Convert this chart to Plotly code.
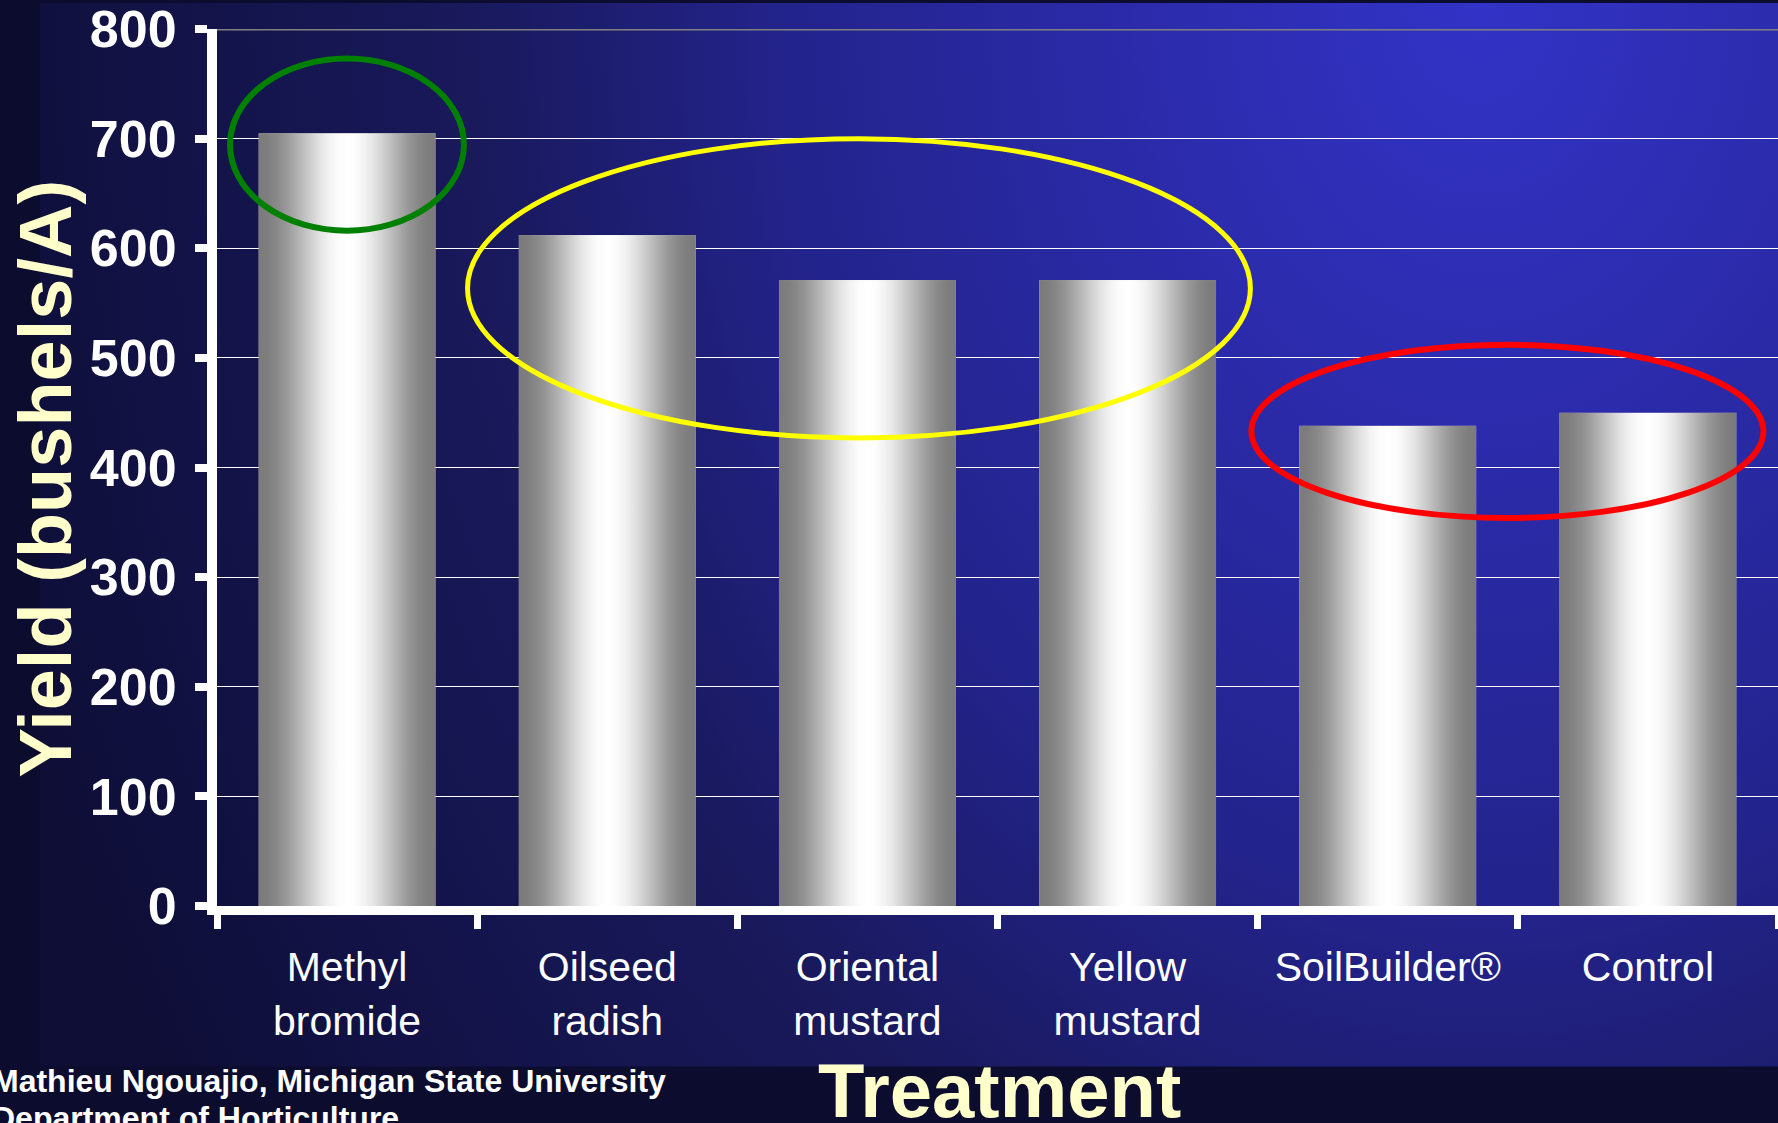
import base64
import math
import plotly.graph_objects as go

# ---- data -------------------------------------------------------------
categories = ["Methyl<br>bromide", "Oilseed<br>radish", "Oriental<br>mustard",
              "Yellow<br>mustard", "SoilBuilder®", "Control"]
yield_bu_per_acre = [705, 612, 571, 571, 438, 450]
y_tick_values = [0, 100, 200, 300, 400, 500, 600, 700, 800]

y_title = "Yield (bushels/A)"
x_title = "Treatment"
credit_lines = ["Mathieu Ngouajio, Michigan State University",
                "Department of Horticulture"]

# ---- layout constants --------------------------------------------------
W, H = 1778, 1123
M_L, M_R, M_T, M_B = 217, 0, 26, 217
PW, PH = W - M_L - M_R, H - M_T - M_B
BAR_W = 0.68
FONT = "Liberation Sans, Arial, sans-serif"
CREAM = "#ffffcc"

# outlines drawn around groups of bars: (x0, x1, y0, y1, colour, width)
highlight_ellipses = [
    (-0.45, 0.449, 616, 773, "#008000", 6),
    (0.463, 3.472, 427, 700, "#ffff00", 5),
    (3.476, 5.444, 354, 512, "#ff0000", 6),
]


def px_x(px):
    return (px - M_L) / PW


def px_y(py):
    return (H - M_B - py) / PH


def svg_uri(svg):
    return "data:image/svg+xml;base64," + base64.b64encode(svg.encode()).decode()


# slide background with a blue gradient panel behind the chart
background_svg = f"""<svg xmlns='http://www.w3.org/2000/svg' width='{W}' height='{H}'
 viewBox='0 0 {W} {H}' preserveAspectRatio='none'>
<defs>
<radialGradient id='panel' gradientUnits='userSpaceOnUse' cx='1480' cy='0' r='1550'
 gradientTransform='translate(1480 0) scale(1 1.3) translate(-1480 0)'>
<stop offset='0' stop-color='#3233c6'/>
<stop offset='0.22' stop-color='#2b2bab'/>
<stop offset='0.45' stop-color='#23238c'/>
<stop offset='0.65' stop-color='#19195c'/>
<stop offset='0.9' stop-color='#111142'/>
<stop offset='1' stop-color='#0e0e37'/>
</radialGradient>
</defs>
<rect width='{W}' height='{H}' fill='#0c0c2f'/>
<rect x='40' y='-10' width='{W}' height='1077' fill='url(#panel)'/>
</svg>"""

# chrome-like horizontal shading for the bars (grey edges, white centre)
stops = []
for k in range(21):
    t = k / 20
    v = round(123 + 132 * (1 - math.cos(2 * math.pi * t)) / 2)
    stops.append(f"<stop offset='{t:.2f}' stop-color='rgb({v},{v},{v})'/>")
bar_svg = ("<svg xmlns='http://www.w3.org/2000/svg' width='100' height='100' "
           "viewBox='0 0 100 100' preserveAspectRatio='none'>"
           "<defs><linearGradient id='b' x1='0' y1='0' x2='1' y2='0'>"
           + "".join(stops) +
           "</linearGradient></defs>"
           "<rect width='100' height='100' fill='url(#b)'/></svg>")

bg_uri = svg_uri(background_svg)
bar_uri = svg_uri(bar_svg)

fig = go.Figure()
fig.add_trace(go.Bar(
    x=categories,
    y=yield_bu_per_acre,
    width=BAR_W,
    marker=dict(color="#b8b8b8", line=dict(width=0)),
    hovertemplate="%{x}: %{y}<extra></extra>",
))

images = [dict(
    source=bg_uri, xref="paper", yref="paper",
    x=px_x(0), y=px_y(0), sizex=W / PW, sizey=H / PH,
    xanchor="left", yanchor="top", sizing="stretch", layer="below",
)]
for i, v in enumerate(yield_bu_per_acre):
    images.append(dict(
        source=bar_uri, xref="x", yref="y",
        x=i - BAR_W / 2, y=v, sizex=BAR_W, sizey=v,
        xanchor="left", yanchor="top", sizing="stretch", layer="above",
    ))

shapes = [dict(
    type="line", xref="paper", yref="y", x0=0, x1=1,
    y0=y_tick_values[-1], y1=y_tick_values[-1],
    line=dict(color="#808080", width=3), layer="between",
)]
for x0, x1, y0, y1, col, lw in highlight_ellipses:
    shapes.append(dict(
        type="circle", xref="x", yref="y", x0=x0, x1=x1, y0=y0, y1=y1,
        line=dict(color=col, width=lw), fillcolor="rgba(0,0,0,0)", layer="above",
    ))

annotations = [
    dict(text=y_title, textangle=-90, xref="paper", yref="paper",
         x=px_x(45), y=px_y(477), xanchor="center", yanchor="middle",
         showarrow=False, font=dict(family=FONT, size=74, color=CREAM, weight="bold")),
    dict(text=x_title, xref="paper", yref="paper",
         x=px_x(999), y=px_y(1091), xanchor="center", yanchor="middle",
         showarrow=False, font=dict(family=FONT, size=76, color=CREAM, weight="bold")),
    dict(text=credit_lines[0], xref="paper", yref="paper",
         x=px_x(-10), y=px_y(1082), xanchor="left", yanchor="middle",
         showarrow=False, font=dict(family=FONT, size=32, color="white", weight="bold")),
    dict(text=credit_lines[1], xref="paper", yref="paper",
         x=px_x(-10), y=px_y(1119), xanchor="left", yanchor="middle",
         showarrow=False, font=dict(family=FONT, size=32, color="white", weight="bold")),
]

fig.update_layout(
    width=W, height=H,
    margin=dict(l=M_L, r=M_R, t=M_T, b=M_B, pad=0),
    paper_bgcolor="#0c0c2f",
    plot_bgcolor="rgba(0,0,0,0)",
    showlegend=False,
    bargap=1 - BAR_W,
    images=images,
    shapes=shapes,
    annotations=annotations,
    font=dict(family=FONT, color="white"),
    xaxis=dict(
        type="category", range=[-0.5, len(categories) - 0.5],
        tickson="boundaries", ticks="outside", ticklen=14, tickwidth=7,
        tickcolor="white", showline=True, linecolor="white", linewidth=9,
        showgrid=False, zeroline=False, ticklabelstandoff=17,
        tickfont=dict(family=FONT, size=41, color="white"),
    ),
    yaxis=dict(
        range=[y_tick_values[0], y_tick_values[-1]], tickvals=y_tick_values,
        ticks="outside", ticklen=12, tickwidth=8, tickcolor="white",
        showline=True, linecolor="white", linewidth=10,
        showgrid=True, gridcolor="white", gridwidth=1, zeroline=False,
        ticklabelstandoff=8, ticklabeloverflow="allow",
        tickfont=dict(family=FONT, size=52, color="white", weight="bold"),
    ),
)

fig.write_html("out.html")
